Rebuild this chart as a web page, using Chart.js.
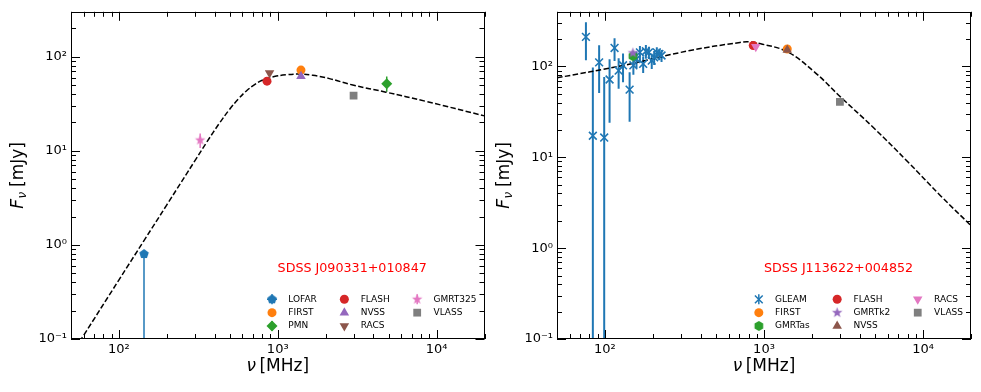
<!DOCTYPE html>
<html>
<head>
<meta charset="utf-8">
<script src="https://cdn.jsdelivr.net/npm/chart.js@4.4.1/dist/chart.umd.min.js"></script>
<style>
  body { margin: 0; background: #fff; }
  #wrap { display: flex; width: 981px; height: 392px; }
  canvas { display: block; }
</style>
</head>
<body>
<div id="wrap">
  <canvas id="leftChart" width="490" height="392"></canvas>
  <canvas id="rightChart" width="491" height="392"></canvas>
</div>
<script>
// ---- data: SDSS J090331+010847 (left panel) ----
const leftName = 'SDSS J090331+010847';
const leftSurveys = ['LOFAR', 'FIRST', 'PMN', 'FLASH', 'NVSS', 'RACS', 'GMRT325', 'VLASS'];
const leftFreq  = [144, 1400, 4850, 856, 1400, 888, 325, 3000];
const leftFlux  = [0.8, 72, 51.5, 55, 62, 67, 13, 38.5];
const leftErrLo = [0.8, 0, 9, 0, 0, 0, 2.3, 0];
const leftErrHi = [0, 0, 10, 0, 0, 0, 2.3, 0];
const leftModelFreq = [50, 60, 100, 144, 200, 307, 359, 430, 497, 565, 632, 715, 805, 950, 1130, 1350, 1660, 2115, 2965, 4790, 8570, 20000];
const leftModelFlux = [0.0675, 0.109, 0.423, 1.11, 2.65, 8.26, 12.5, 19.7, 27.5, 35.5, 43, 50.5, 56.5, 61.5, 64.3, 65.3, 63.5, 58.5, 50, 42, 33.5, 23.5];

// ---- data: SDSS J113622+004852 (right panel) ----
const rightName = 'SDSS J113622+004852';
const gleamFreq = [76, 84, 92, 99, 107, 115, 122, 130, 143, 151, 158, 166, 174, 181, 189, 197, 204, 212, 220, 227];
const gleamFlux = [212, 17.3, 111, 16.5, 72, 160, 90, 103, 55.6, 103, 121, 143, 107, 147, 143, 116, 126, 143, 137, 132];
const gleamErr  = [95, 80, 60, 60, 48, 45, 33, 36, 31, 22, 25, 25, 22, 25, 22, 22, 22, 20, 20, 20];
const rightSurveys = ['FIRST', 'GMRTas', 'FLASH', 'GMRTk2', 'NVSS', 'RACS', 'VLASS'];
const rightFreq = [1400, 150, 856, 150, 1400, 888, 3000];
const rightFlux = [156, 130, 170, 141, 152, 165, 40.8];
const rightModelFreq = [50, 130, 343, 706, 800, 953, 1403, 2060, 3034, 4920, 7980, 12900, 20000];
const rightModelFlux = [75, 102.6, 150, 184, 187, 178, 145, 88, 46, 20.9, 9.0, 3.76, 1.77];

// axis limits
const freqLim = [50, 20000];
const leftFluxLim = [0.1, 300];
const rightFluxLim = [0.1, 400];

// ---- styles ----
const blue = '#1f77b4', orange = '#ff7f0e', green = '#2ca02c', red = '#d62728',
      purple = '#9467bd', brown = '#8c564b', pink = '#e377c2', gray = '#7f7f7f';
Chart.defaults.font.family = 'DejaVu Sans';
Chart.defaults.color = '#000';

function polyMarker(color, sides, r, star) {
  const c = document.createElement('canvas');
  const s = Math.ceil(r * 2 + 2);
  c.width = s; c.height = s;
  const g = c.getContext('2d');
  g.fillStyle = color;
  g.beginPath();
  const n = star ? sides * 2 : sides;
  for (let i = 0; i < n; i++) {
    const a = -Math.PI / 2 + i * 2 * Math.PI / n;
    const rr = (star && i % 2) ? r * 0.42 : r;
    g.lineTo(s / 2 + rr * Math.cos(a), s / 2 + rr * Math.sin(a));
  }
  g.closePath();
  g.fill();
  return c;
}

const leftStyles = {
  LOFAR:   { color: blue, style: polyMarker(blue, 5, 5), xbar: true },
  FIRST:   { color: orange, style: 'circle', radius: 4.5 },
  PMN:     { color: green, style: 'rectRot', radius: 5.5 },
  FLASH:   { color: red, style: 'circle', radius: 4.5 },
  NVSS:    { color: purple, style: 'triangle', radius: 5.5 },
  RACS:    { color: brown, style: 'triangle', radius: 5.5, rotation: 180 },
  GMRT325: { color: pink, style: polyMarker(pink, 5, 5.5, true) },
  VLASS:   { color: gray, style: 'rect', radius: 5.5 }
};
const rightStyles = {
  GLEAM:  { color: blue, style: 'crossRot', radius: 5.5, border: 1.6 },
  FIRST:  { color: orange, style: 'circle', radius: 4.5 },
  GMRTas: { color: green, style: polyMarker(green, 6, 5) },
  FLASH:  { color: red, style: 'circle', radius: 4.5 },
  GMRTk2: { color: purple, style: polyMarker(purple, 5, 5.5, true) },
  NVSS:   { color: brown, style: 'triangle', radius: 5.5 },
  RACS:   { color: pink, style: 'triangle', radius: 5.5, rotation: 180 },
  VLASS:  { color: gray, style: 'rect', radius: 5.5 }
};

function surveySet(name, xs, ys, lo, hi, st, i) {
  return {
    type: 'scatter', label: name,
    data: xs.map((x, k) => ({ x: x, y: ys[k] })),
    errLo: lo, errHi: hi, errWidth: name === 'GLEAM' ? 2 : 1.5,
    hasErr: !!lo && lo.concat(hi).some(v => v > 0),
    pointStyle: st.style, pointRadius: st.radius || 5, pointRotation: st.rotation || 0,
    backgroundColor: st.color, borderColor: st.color, borderWidth: st.border || 0,
    legendX: !!st.xbar,
    order: 100 - i
  };
}

function modelSet(xs, ys) {
  return {
    type: 'line', label: 'model', data: xs.map((x, k) => ({ x: x, y: ys[k] })),
    borderColor: '#000', borderWidth: 1.5, borderDash: [5.5, 2.4],
    pointRadius: 0, tension: 0.4, fill: false,
    order: 1000, noLegend: true
  };
}

const sup = { '-': '\u207B', '0': '\u2070', '1': '\u00B9', '2': '\u00B2', '3': '\u00B3', '4': '\u2074' };
function decadeLabel(v) {
  const e = Math.log10(v);
  if (Math.abs(e - Math.round(e)) > 1e-6) return '';
  return '10' + String(Math.round(e)).split('').map(c => sup[c]).join('');
}

// error bars under the markers
const errorBars = {
  id: 'errorBars',
  beforeDatasetsDraw(chart) {
    const ctx = chart.ctx, xs = chart.scales.x, ys = chart.scales.y, a = chart.chartArea;
    ctx.save();
    ctx.beginPath();
    ctx.rect(a.left, a.top, a.right - a.left, a.bottom - a.top);
    ctx.clip();
    chart.data.datasets.forEach(ds => {
      if (!ds.hasErr) return;
      ctx.strokeStyle = ds.borderColor;
      ctx.lineWidth = ds.errWidth;
      ds.data.forEach((p, k) => {
        const lo = ds.errLo[k], hi = ds.errHi[k];
        if (!lo && !hi) return;
        const px = xs.getPixelForValue(p.x);
        const y1 = p.y - lo > 0 ? ys.getPixelForValue(p.y - lo) : a.bottom + 5;
        const y2 = ys.getPixelForValue(p.y + hi);
        ctx.beginPath();
        ctx.moveTo(px, y1);
        ctx.lineTo(px, y2);
        ctx.stroke();
      });
    });
    ctx.restore();
  }
};

// frame, inward ticks, titles, name and legend
const decor = {
  id: 'decor',
  afterDraw(chart, args, opts) {
    const ctx = chart.ctx, a = chart.chartArea, xs = chart.scales.x, ys = chart.scales.y;
    ctx.save();
    ctx.strokeStyle = '#000';
    ctx.lineWidth = 1;
    ctx.strokeRect(Math.round(a.left) + 0.5, Math.round(a.top) + 0.5,
      Math.round(a.right - a.left) - 1, Math.round(a.bottom - a.top) - 1);

    function tickVals(min, max) {
      const out = [];
      for (let e = Math.floor(Math.log10(min)); e <= Math.ceil(Math.log10(max)); e++) {
        for (let m = 1; m <= 9; m++) {
          const v = m * Math.pow(10, e);
          if (v >= min * 0.9999 && v <= max * 1.0001) out.push({ v: v, major: m === 1 });
        }
      }
      return out;
    }
    ctx.beginPath();
    tickVals(xs.min, xs.max).forEach(t => {
      const px = Math.round(xs.getPixelForValue(t.v)) + 0.5, L = t.major ? 9 : 5;
      ctx.moveTo(px, a.bottom); ctx.lineTo(px, a.bottom - L);
      ctx.moveTo(px, a.top); ctx.lineTo(px, a.top + L);
    });
    tickVals(ys.min, ys.max).forEach(t => {
      const py = Math.round(ys.getPixelForValue(t.v)) + 0.5, L = t.major ? 9 : 5;
      ctx.moveTo(a.left, py); ctx.lineTo(a.left + L, py);
      ctx.moveTo(a.right, py); ctx.lineTo(a.right - L, py);
    });
    ctx.stroke();

    // axis titles
    ctx.fillStyle = '#000';
    ctx.textBaseline = 'middle';
    ctx.textAlign = 'left';
    const big = '17px "DejaVu Sans"', bigIt = 'italic 17px "DejaVu Sans"', small = 'italic 12px "DejaVu Sans"';
    ctx.font = bigIt; const w1 = ctx.measureText('\u03BD').width;
    ctx.font = big; const w2 = ctx.measureText('\u2009[MHz]').width;
    let x0 = (a.left + a.right) / 2 - (w1 + w2) / 2, ty = a.bottom + 28;
    ctx.font = bigIt; ctx.fillText('\u03BD', x0, ty);
    ctx.font = big; ctx.fillText('\u2009[MHz]', x0 + w1, ty);
    ctx.save();
    ctx.translate(a.left - 52, (a.top + a.bottom) / 2);
    ctx.rotate(-Math.PI / 2);
    ctx.font = bigIt; const f1 = ctx.measureText('F').width;
    ctx.font = small; const f2 = ctx.measureText('\u03BD').width;
    ctx.font = big; const f3 = ctx.measureText(' [mJy]').width;
    x0 = -(f1 + f2 + f3) / 2;
    ctx.font = bigIt; ctx.fillText('F', x0, 0);
    ctx.font = small; ctx.fillText('\u03BD', x0 + f1 + 0.5, 4);
    ctx.font = big; ctx.fillText(' [mJy]', x0 + f1 + f2, 0);
    ctx.restore();

    // source name
    ctx.font = '12.7px "DejaVu Sans"';
    ctx.fillStyle = '#ff0000';
    ctx.textAlign = 'center';
    ctx.fillText(opts.name, a.left + 0.68 * (a.right - a.left), a.top + 0.785 * (a.bottom - a.top));

    // legend, filled column by column
    const items = chart.data.datasets.filter(d => !d.noLegend);
    const rows = 3, cols = Math.ceil(items.length / rows);
    ctx.font = '9px "DejaVu Sans"';
    ctx.textAlign = 'left';
    const colW = [];
    for (let c = 0; c < cols; c++) {
      let m = 0;
      items.slice(c * rows, c * rows + rows).forEach(d => { m = Math.max(m, ctx.measureText(d.label).width); });
      colW.push(m);
    }
    const textOff = 16.3, gap = 27.5, rowH = 13.35;
    let total = 0;
    colW.forEach((w, c) => { total += textOff + w + (c < cols - 1 ? gap : 0); });
    let cx = a.right - 8 - total;
    for (let c = 0; c < cols; c++) {
      items.slice(c * rows, c * rows + rows).forEach((d, r) => {
        const my = a.bottom - 13 - (rows - 1 - r) * rowH;
        ctx.strokeStyle = d.borderColor;
        ctx.fillStyle = d.backgroundColor;
        if (d.hasErr) {
          ctx.lineWidth = 1.5;
          ctx.beginPath();
          ctx.moveTo(cx, my - 5); ctx.lineTo(cx, my + 5);
          if (d.legendX) { ctx.moveTo(cx - 5, my); ctx.lineTo(cx + 5, my); }
          ctx.stroke();
        }
        Chart.helpers.drawPoint(ctx, {
          pointStyle: d.pointStyle, radius: d.pointRadius, rotation: d.pointRotation,
          borderWidth: d.borderWidth
        }, cx, my);
        ctx.fillStyle = '#000';
        ctx.fillText(d.label, cx + textOff, my);
      });
      cx += textOff + colW[c] + gap;
    }
    ctx.restore();
  }
};

function makeChart(id, datasets, yLim, yWidth, padRight, name) {
  return new Chart(document.getElementById(id), {
    data: { datasets: datasets },
    options: {
      responsive: false, animation: false, events: [], devicePixelRatio: 1,
      layout: { padding: { top: 9, right: padRight, left: 0, bottom: 0 } },
      plugins: { legend: { display: false }, tooltip: { enabled: false }, decor: { name: name } },
      scales: {
        x: {
          type: 'logarithmic', min: freqLim[0], max: freqLim[1],
          grid: { display: false, drawTicks: false }, border: { display: false },
          ticks: { autoSkip: false, maxRotation: 0, padding: 3, font: { size: 13 }, callback: decadeLabel },
          afterFit: s => { s.height = 53; }
        },
        y: {
          type: 'logarithmic', min: yLim[0], max: yLim[1],
          grid: { display: false, drawTicks: false }, border: { display: false },
          ticks: { autoSkip: false, padding: 4, font: { size: 13 }, callback: decadeLabel },
          afterFit: s => { s.width = yWidth; }
        }
      }
    },
    plugins: [errorBars, decor]
  });
}

const leftSets = leftSurveys.map((n, i) =>
  surveySet(n, [leftFreq[i]], [leftFlux[i]], [leftErrLo[i]], [leftErrHi[i]], leftStyles[n], i));
leftSets.push(modelSet(leftModelFreq, leftModelFlux));
makeChart('leftChart', leftSets, leftFluxLim, 71, 5, leftName);

const rightSets = [surveySet('GLEAM', gleamFreq, gleamFlux, gleamErr, gleamErr, rightStyles.GLEAM, 0)];
rightSurveys.forEach((n, i) => {
  rightSets.push(surveySet(n, [rightFreq[i]], [rightFlux[i]], null, null, rightStyles[n], i + 1));
});
rightSets.push(modelSet(rightModelFreq, rightModelFlux));
makeChart('rightChart', rightSets, rightFluxLim, 67, 10, rightName);
</script>
</body>
</html>
